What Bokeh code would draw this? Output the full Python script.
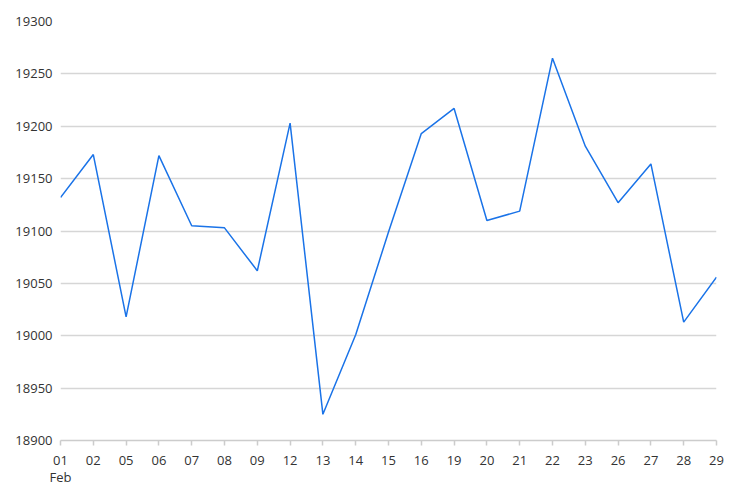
from bokeh.plotting import figure
from bokeh.models import FixedTicker, Range1d
from bokeh.embed import file_html
from bokeh.resources import INLINE

days = ["01", "02", "05", "06", "07", "08", "09", "12", "13", "14", "15",
        "16", "19", "20", "21", "22", "23", "26", "27", "28", "29"]
month_label = "Feb"
values = [19132, 19173, 19018, 19172, 19105, 19103, 19062, 19203, 18925, 19001, 19099,
          19193, 19217, 19110, 19119, 19265, 19181, 19127, 19164, 19013, 19056]
y_ticks = [18900, 18950, 19000, 19050, 19100, 19150, 19200, 19250, 19300]

xs = list(range(len(days)))

p = figure(width=736, height=497, output_backend="svg", toolbar_location=None,
           x_range=Range1d(0, len(days) - 1), y_range=Range1d(18900, 19300),
           min_border_left=60, min_border_right=20, min_border_top=21, min_border_bottom=57)
p.frame_width = 656
p.frame_height = 419
p.outline_line_color = None
p.background_fill_color = "white"
p.border_fill_color = "white"

p.line(xs, values, line_color="#1a73e8", line_width=1.5)

font = "Open Sans"
# x axis
p.xaxis.ticker = FixedTicker(ticks=xs)
overrides = {i: d for i, d in zip(xs, days)}
overrides[0] = days[0] + "\n" + month_label
p.xaxis.major_label_overrides = overrides
p.xaxis.axis_line_color = "#cccccc"
p.xaxis.axis_line_width = 1.5
p.xaxis.major_tick_line_color = "#cccccc"
p.xaxis.major_tick_line_width = 1.5
p.xaxis.major_tick_out = 5
p.xaxis.major_tick_in = 0
p.xaxis.minor_tick_line_color = None
p.xaxis.major_label_standoff = 5
p.xaxis.major_label_text_font = font
p.xaxis.major_label_text_font_size = "13px"
p.xaxis.major_label_text_color = "#333333"
p.xaxis.major_label_text_line_height = 0.95

# y axis
p.yaxis.ticker = FixedTicker(ticks=y_ticks)
p.yaxis.axis_line_color = None
p.yaxis.major_tick_line_color = None
p.yaxis.minor_tick_line_color = None
p.yaxis.major_tick_out = 0
p.yaxis.major_label_standoff = 8
p.yaxis.major_label_text_font = font
p.yaxis.major_label_text_font_size = "13px"
p.yaxis.major_label_text_color = "#333333"

p.xgrid.grid_line_color = None
p.ygrid.grid_line_color = "#d6d6d6"
p.ygrid.grid_line_width = 1.5

open("out.html", "w").write(file_html(p, INLINE))
